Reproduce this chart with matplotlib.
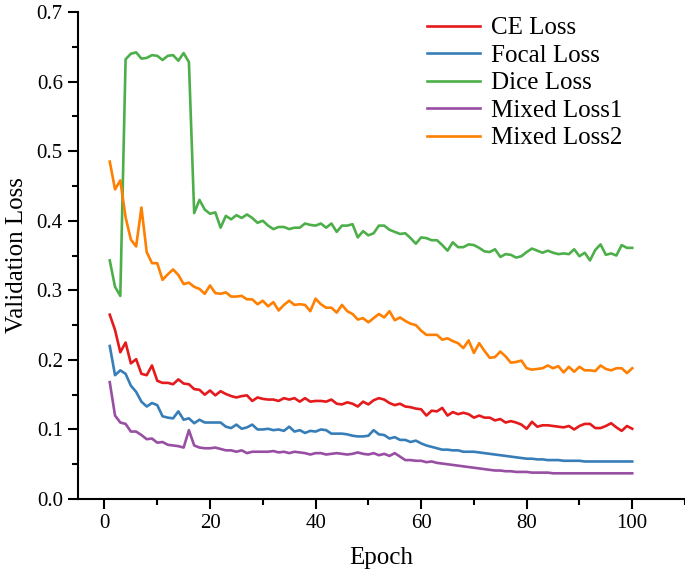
import numpy as np
import matplotlib.pyplot as plt
from matplotlib.ticker import MultipleLocator

plt.rcParams['font.family'] = ['Liberation Serif', 'DejaVu Serif']

ce_loss = [0.265, 0.243, 0.211, 0.225, 0.195, 0.201, 0.180, 0.178, 0.192, 0.170,
           0.167, 0.167, 0.165, 0.172, 0.166, 0.165, 0.158, 0.157, 0.150, 0.156,
           0.149, 0.155, 0.151, 0.148, 0.146, 0.148, 0.149, 0.141, 0.146, 0.144,
           0.143, 0.143, 0.141, 0.145, 0.143, 0.145, 0.140, 0.145, 0.140, 0.141,
           0.141, 0.140, 0.143, 0.137, 0.136, 0.139, 0.137, 0.133, 0.140, 0.136,
           0.142, 0.145, 0.143, 0.138, 0.135, 0.137, 0.133, 0.132, 0.130, 0.129,
           0.120, 0.127, 0.126, 0.131, 0.120, 0.125, 0.122, 0.124, 0.122, 0.117,
           0.120, 0.117, 0.117, 0.113, 0.115, 0.110, 0.112, 0.110, 0.107, 0.101,
           0.111, 0.104, 0.106, 0.106, 0.105, 0.104, 0.103, 0.105, 0.100, 0.105,
           0.108, 0.108, 0.102, 0.102, 0.105, 0.109, 0.103, 0.098, 0.105, 0.101]

focal_loss = [0.220, 0.178, 0.185, 0.180, 0.163, 0.154, 0.140, 0.133, 0.138, 0.135,
              0.119, 0.117, 0.116, 0.126, 0.114, 0.116, 0.109, 0.114, 0.110, 0.110,
              0.110, 0.110, 0.104, 0.102, 0.107, 0.101, 0.103, 0.107, 0.100, 0.100,
              0.101, 0.099, 0.100, 0.098, 0.104, 0.097, 0.099, 0.095, 0.098, 0.097,
              0.100, 0.099, 0.094, 0.094, 0.094, 0.093, 0.091, 0.090, 0.090, 0.091,
              0.099, 0.093, 0.092, 0.087, 0.089, 0.085, 0.085, 0.082, 0.084, 0.080,
              0.077, 0.075, 0.073, 0.071, 0.071, 0.070, 0.070, 0.068, 0.068, 0.068,
              0.067, 0.066, 0.065, 0.064, 0.063, 0.062, 0.061, 0.060, 0.059, 0.058,
              0.058, 0.057, 0.057, 0.056, 0.056, 0.056, 0.055, 0.055, 0.055, 0.055,
              0.054, 0.054, 0.054, 0.054, 0.054, 0.054, 0.054, 0.054, 0.054, 0.054]

dice_loss = [0.343, 0.305, 0.292, 0.632, 0.640, 0.642, 0.633, 0.634, 0.638, 0.637,
             0.631, 0.637, 0.638, 0.630, 0.641, 0.628, 0.411, 0.430, 0.416, 0.410,
             0.412, 0.390, 0.407, 0.402, 0.408, 0.404, 0.409, 0.404, 0.397, 0.400,
             0.393, 0.388, 0.391, 0.391, 0.388, 0.390, 0.390, 0.396, 0.394, 0.393,
             0.396, 0.390, 0.396, 0.384, 0.393, 0.393, 0.395, 0.376, 0.385, 0.379,
             0.382, 0.393, 0.393, 0.387, 0.384, 0.381, 0.382, 0.375, 0.367, 0.376,
             0.375, 0.372, 0.372, 0.365, 0.357, 0.369, 0.362, 0.362, 0.366, 0.365,
             0.361, 0.356, 0.355, 0.359, 0.348, 0.352, 0.351, 0.347, 0.349, 0.355,
             0.360, 0.357, 0.354, 0.357, 0.354, 0.352, 0.353, 0.352, 0.359, 0.349,
             0.354, 0.343, 0.358, 0.366, 0.351, 0.353, 0.350, 0.365, 0.361, 0.361]

mixed_loss1 = [0.168, 0.120, 0.110, 0.108, 0.097, 0.097, 0.092, 0.086, 0.087, 0.081,
               0.082, 0.078, 0.077, 0.076, 0.074, 0.099, 0.077, 0.074, 0.073, 0.073,
               0.074, 0.072, 0.070, 0.070, 0.068, 0.070, 0.066, 0.068, 0.068, 0.068,
               0.068, 0.069, 0.067, 0.068, 0.066, 0.068, 0.067, 0.066, 0.064, 0.066,
               0.066, 0.064, 0.065, 0.066, 0.065, 0.064, 0.065, 0.067, 0.065, 0.064,
               0.066, 0.063, 0.065, 0.062, 0.066, 0.061, 0.056, 0.056, 0.055, 0.055,
               0.053, 0.054, 0.052, 0.051, 0.050, 0.049, 0.048, 0.047, 0.046, 0.045,
               0.044, 0.043, 0.042, 0.041, 0.041, 0.040, 0.040, 0.039, 0.039, 0.039,
               0.038, 0.038, 0.038, 0.038, 0.037, 0.037, 0.037, 0.037, 0.037, 0.037,
               0.037, 0.037, 0.037, 0.037, 0.037, 0.037, 0.037, 0.037, 0.037, 0.037]

mixed_loss2 = [0.485, 0.445, 0.458, 0.405, 0.373, 0.363, 0.419, 0.355, 0.339, 0.339,
               0.315, 0.323, 0.330, 0.322, 0.309, 0.311, 0.305, 0.302, 0.295, 0.307,
               0.296, 0.295, 0.297, 0.291, 0.291, 0.292, 0.287, 0.287, 0.280, 0.285,
               0.277, 0.283, 0.271, 0.279, 0.285, 0.279, 0.280, 0.279, 0.270, 0.288,
               0.280, 0.275, 0.275, 0.268, 0.279, 0.270, 0.266, 0.258, 0.260, 0.254,
               0.260, 0.266, 0.261, 0.270, 0.257, 0.261, 0.256, 0.252, 0.250, 0.242,
               0.236, 0.236, 0.236, 0.229, 0.231, 0.227, 0.224, 0.217, 0.228, 0.210,
               0.224, 0.213, 0.203, 0.204, 0.212, 0.205, 0.196, 0.197, 0.199, 0.188,
               0.186, 0.187, 0.188, 0.192, 0.188, 0.191, 0.182, 0.190, 0.183, 0.190,
               0.185, 0.185, 0.184, 0.192, 0.187, 0.185, 0.188, 0.188, 0.181, 0.188]

names = ["CE Loss", "Focal Loss", "Dice Loss", "Mixed Loss1", "Mixed Loss2"]
colors = ["#e41a1c", "#377eb8", "#4daf4a", "#984ea3", "#ff7f00"]
series = [ce_loss, focal_loss, dice_loss, mixed_loss1, mixed_loss2]

fig = plt.figure(figsize=(6.85, 5.71), dpi=100)
ax = fig.add_axes([0.114, 0.126, 0.886, 0.853])

for vals, name, c in zip(series, names, colors):
    ep = np.arange(1, len(vals) + 1)
    ax.plot(ep, vals, color=c, lw=1.9, label=name)

ax.set_xlim(-5, 110)
ax.set_ylim(0, 0.7)
ax.xaxis.set_major_locator(MultipleLocator(20))
ax.xaxis.set_minor_locator(MultipleLocator(10))
ax.yaxis.set_minor_locator(MultipleLocator(0.05))
ax.set_yticks(np.arange(0, 0.71, 0.1))
ax.set_yticklabels([f"{v:.1f}" for v in np.arange(0, 0.71, 0.1)])
ax.spines['top'].set_visible(False)
ax.spines['right'].set_visible(False)
ax.spines['left'].set_linewidth(1.5)
ax.spines['bottom'].set_linewidth(1.5)
ax.tick_params(which='major', direction='out', length=7.5, width=1.5, labelsize=15)
ax.tick_params(which='minor', direction='out', length=4, width=1.5)

ax.set_xlabel("Epoch", fontsize=18, labelpad=10)
ax.set_ylabel("Validation Loss", fontsize=18, labelpad=6)

ax.legend(loc='upper left', bbox_to_anchor=(0.609, 0.988), bbox_transform=fig.transFigure,
          borderaxespad=0, frameon=False, fontsize=18,
          handlelength=2.1, handletextpad=0.45, labelspacing=0.2)

plt.savefig("out.png", dpi=100)
